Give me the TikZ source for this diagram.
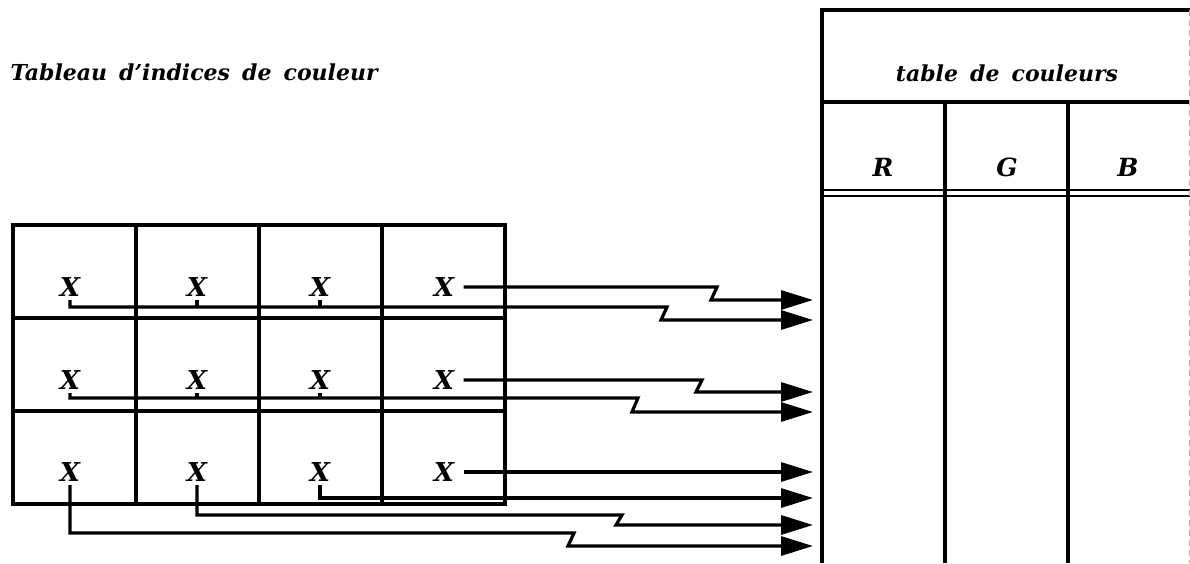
\documentclass[tikz,border=0pt]{standalone}
\usepackage{fontspec}
\setmainfont{DejaVu Serif}
\usetikzlibrary{arrows.meta,positioning,calc}

\newcommand{\ttlfont}{\bfseries\itshape\fontsize{11}{14}\selectfont\spaceskip=.55em\relax}

\begin{document}
\begin{tikzpicture}[x=0.5pt, y=-0.5pt, line width=1.6pt, line join=miter,
        arr/.style={-{Triangle[length=16pt,width=9.5pt]}},
        idx/.style={font=\bfseries\itshape\fontsize{13}{14}\selectfont, inner sep=1pt},
        ttl/.style={font=\ttlfont, inner sep=0pt},
        hdr/.style={font=\bfseries\itshape\fontsize{12.5}{14}\selectfont, inner sep=0pt}]
        \useasboundingbox (0,0) rectangle (1190,563);
        % Titles
        \node [ttl, anchor=west] (title) at (9,72) {Tableau d'indices de couleur};
        \node [ttl] (ctab) at (1007,73) {table de couleurs};
        \node [hdr] (r) at (883,167) {R};
        \node [hdr] (g) at (1007,167) {G};
        \node [hdr] (b) at (1128,167) {B};
        % Grid of indices
        \draw (13,225) rectangle (505,504);
        \foreach \c in {136,259,382}
            \draw (\c,225) -- (\c,504);
        \foreach \r in {318,411}
            \draw (13,\r) -- (505,\r);
        \foreach \r/\y in {1/287,2/380,3/472}
        {
        \foreach \c/\x in {1/70,2/197,3/320,4/444}
            \node [idx] (x\r\c) at (\x,\y) {X};
        }
        % Colour table
        \draw (822,563) -- (822,10) -- (1190,10);
        \draw (822,102) -- (1190,102);
        \draw [line width=1pt]
            (822,190) -- (1190,190)
            (822,196) -- (1190,196)
            ;
        \foreach \c in {945,1068}
            \draw (\c,102) -- (\c,563);
        \draw [densely dashed, gray!60, line width=0.4pt] (1189,10) -- (1189,563);
        % Ends of the arrows
        \foreach \n/\y in {1/300,2/320,3/392,4/412,5/472,6/498,7/525,8/546}
            \coordinate (t\n) at (813,\y);
        % First row
        \draw [arr] ([xshift=3pt]x14.east) -- (717,287) -- (711,300) -- (t1);
        \draw [arr] (x11.south) -- (70,307) -- (667,307) -- (661,320) -- (t2);
        \draw (x12.south) -- (197,307) (x13.south) -- (320,307);
        % Second row
        \draw [arr] ([xshift=3pt]x24.east) -- (702,380) -- (696,392) -- (t3);
        \draw [arr] (x21.south) -- (70,398) -- (638,398) -- (632,412) -- (t4);
        \draw (x22.south) -- (197,398) (x23.south) -- (320,398);
        % Third row
        \draw [arr] ([xshift=3pt]x34.east) -- (t5);
        \draw [arr] (x33.south) -- (320,498) -- (t6);
        \draw [arr] (x32.south) -- (197,515) -- (622,515) -- (616,525) -- (t7);
        \draw [arr] (x31.south) -- (70,533) -- (574,533) -- (568,546) -- (t8);
\end{tikzpicture}
\end{document}
